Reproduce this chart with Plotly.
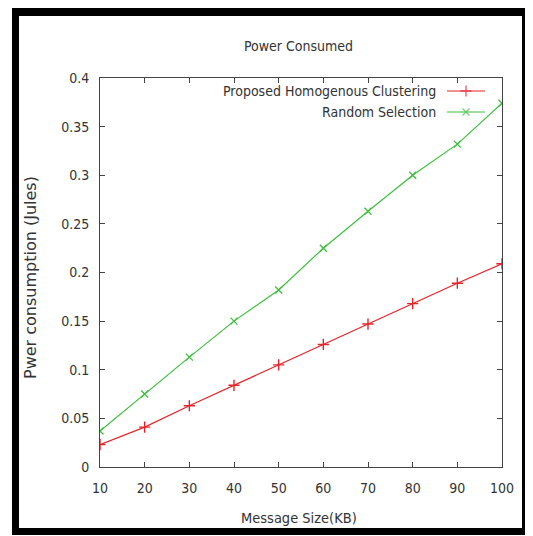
import plotly.graph_objects as go

x_vals = [10, 20, 30, 40, 50, 60, 70, 80, 90, 100]
proposed = [0.023, 0.041, 0.063, 0.084, 0.105, 0.126, 0.147, 0.168, 0.189, 0.209]
random_sel = [0.037, 0.075, 0.113, 0.150, 0.182, 0.225, 0.263, 0.300, 0.332, 0.374]
x_ticks = [10, 20, 30, 40, 50, 60, 70, 80, 90, 100]
y_ticks = [0, 0.05, 0.1, 0.15, 0.2, 0.25, 0.3, 0.35, 0.4]
y_tick_text = ["0", "0.05", "0.1", "0.15", "0.2", "0.25", "0.3", "0.35", "0.4"]
series_names = ["Proposed Homogenous Clustering", "Random Selection"]

RED = "#e3242b"
GREEN = "#3fbf3f"
FONT = "DejaVu Sans Condensed, DejaVu Sans, sans-serif"
FONT_WIDE = "DejaVu Sans, sans-serif"
TXT = "#333333"

OFF = 8  # browser body margin
W, H = 533 - OFF, 536 - OFF
L, R, T, B = 100 - OFF, 502 - OFF, 78 - OFF, 467 - OFF  # plot area in figure pixels

def px(xp):  # page pixel -> paper
    return (xp - OFF - L) / (R - L)

def py(yp):
    return (B - (yp - OFF)) / (B - T)

fig = go.Figure()
fig.add_trace(go.Scatter(x=x_vals, y=proposed, mode="lines+markers",
                         line=dict(color=RED, width=1.2),
                         marker=dict(symbol="cross-thin", size=8, line=dict(color=RED, width=1.4)),
                         showlegend=False))
fig.add_trace(go.Scatter(x=x_vals, y=random_sel, mode="lines+markers",
                         line=dict(color=GREEN, width=1.2),
                         marker=dict(symbol="x-thin", size=7, line=dict(color=GREEN, width=1.3)),
                         showlegend=False))

# legend samples (gnuplot style: text left, sample right)
leg_y = [91, 112]
leg_cols = [RED, GREEN]
leg_syms = ["cross-thin", "x-thin"]
for i in range(2):
    fig.add_shape(type="line", xref="paper", yref="paper",
                  x0=px(447), x1=px(485), y0=py(leg_y[i]), y1=py(leg_y[i]),
                  line=dict(color=leg_cols[i], width=1.2))
    fig.add_annotation(xref="paper", yref="paper", x=px(438), y=py(leg_y[i]),
                       text=series_names[i], showarrow=False, xanchor="right", yanchor="middle",
                       font=dict(family=FONT, size=14, color=TXT))
fig.add_trace(go.Scatter(x=[px(466), px(466)], y=[py(leg_y[0]), py(leg_y[1])],
                         xaxis="x2", yaxis="y2", mode="markers",
                         marker=dict(symbol=leg_syms, size=[8, 7],
                                     line=dict(color=leg_cols, width=1.4), color=leg_cols),
                         showlegend=False, hoverinfo="skip"))

# black frame around the picture (page pixels)
frame = [(12, 5, 530, 16), (12, 5, 19, 535), (522, 5, 530, 535), (12, 528, 530, 535)]
for (a, b, c, d) in frame:
    fig.add_shape(type="rect", xref="paper", yref="paper", layer="above",
                  x0=px(a), x1=px(c), y0=py(d), y1=py(b),
                  fillcolor="black", line=dict(width=0))

fig.add_annotation(xref="paper", yref="paper", x=px(298), y=py(46), text="Power Consumed",
                   showarrow=False, xanchor="center", yanchor="middle",
                   font=dict(family=FONT, size=14, color=TXT))
fig.add_annotation(xref="paper", yref="paper", x=px(299), y=py(518), text="Message Size(KB)",
                   showarrow=False, xanchor="center", yanchor="middle",
                   font=dict(family=FONT, size=14.5, color=TXT))
fig.add_annotation(xref="paper", yref="paper", x=px(30), y=py(278), text="Pwer consumption (Jules)",
                   showarrow=False, xanchor="center", yanchor="middle", textangle=-90,
                   font=dict(family=FONT_WIDE, size=16, color=TXT))

fig.update_layout(
    width=W, height=H,
    margin=dict(l=L, r=W - R, t=T, b=H - B),
    paper_bgcolor="white", plot_bgcolor="white",
    font=dict(family=FONT, size=14, color=TXT),
    xaxis=dict(range=[10, 100], tickvals=x_ticks, ticks="inside", ticklen=5,
               tickcolor="#444", showline=True, linecolor="#444", linewidth=1, mirror="ticks",
               showgrid=False, zeroline=False, ticklabelstandoff=8),
    yaxis=dict(range=[0, 0.4], tickvals=y_ticks, ticktext=y_tick_text, ticks="inside", ticklen=5,
               tickcolor="#444", showline=True, linecolor="#444", linewidth=1, mirror="ticks",
               showgrid=False, zeroline=False, ticklabelstandoff=7),
    xaxis2=dict(range=[0, 1], overlaying="x", visible=False, fixedrange=True),
    yaxis2=dict(range=[0, 1], overlaying="y", visible=False, fixedrange=True),
)

fig.write_html("out.html")
